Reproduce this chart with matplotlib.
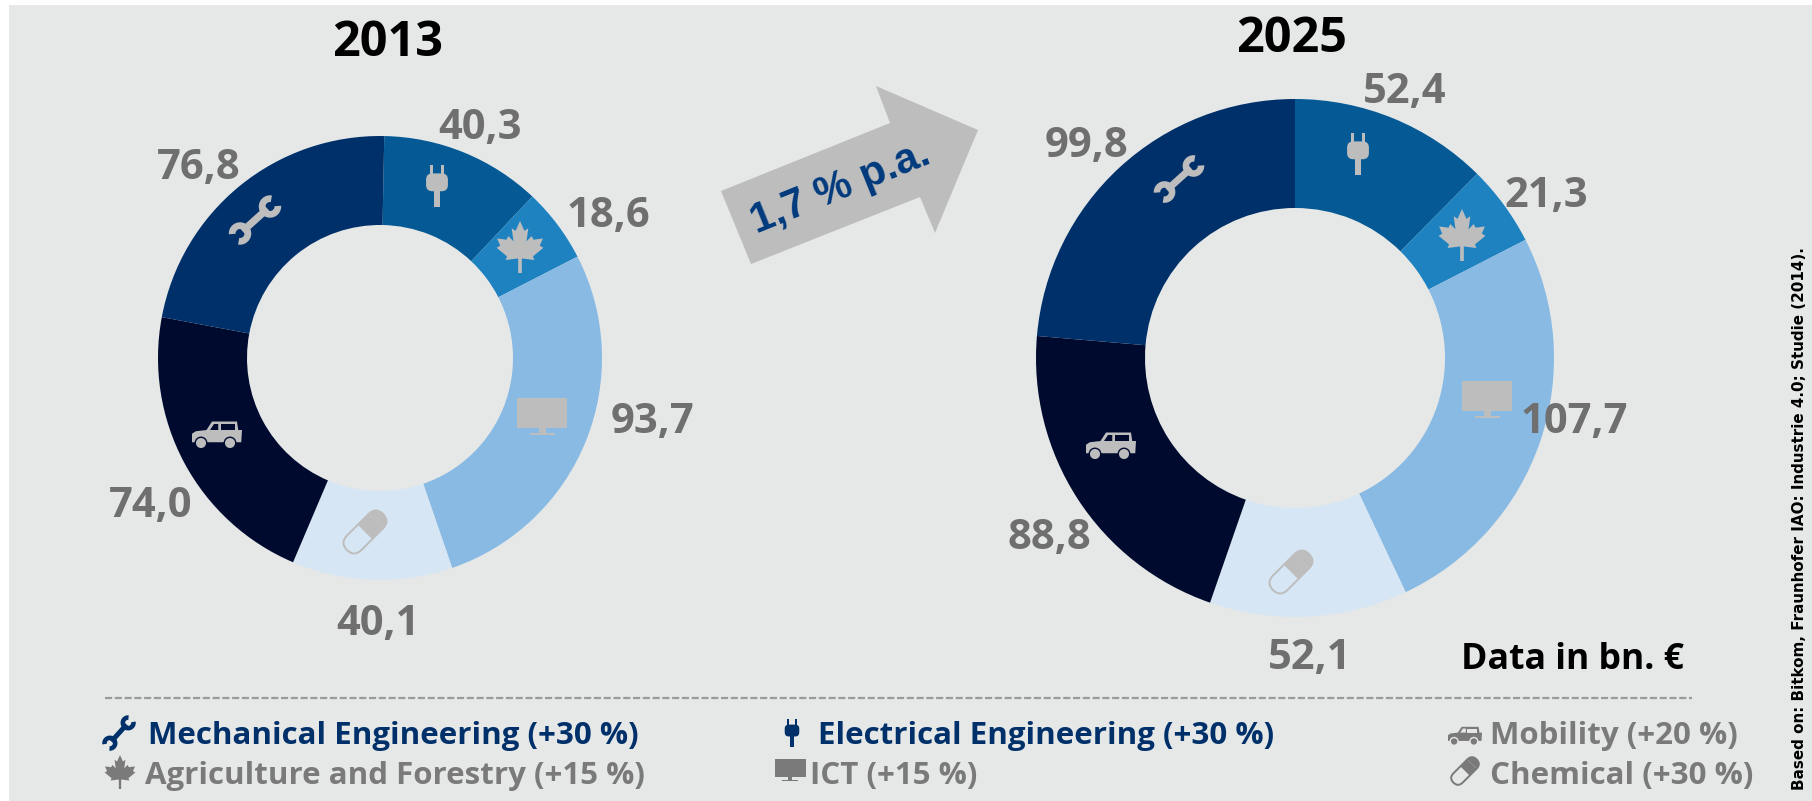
import matplotlib
matplotlib.use('Agg')
import matplotlib.pyplot as plt
from matplotlib.patches import Rectangle, Polygon, Wedge, FancyBboxPatch, Circle
from matplotlib.transforms import Affine2D

W, H = 1812, 801

values_2013 = [40.3, 18.6, 93.7, 40.1, 74.0, 76.8]
values_2025 = [52.4, 21.3, 107.7, 52.1, 88.8, 99.8]
labels_2013 = ['40,3', '18,6', '93,7', '40,1', '74,0', '76,8']
labels_2025 = ['52,4', '21,3', '107,7', '52,1', '88,8', '99,8']
label_pos_2013 = [(480, 129), (608, 217), (653, 423), (378, 624), (151, 506), (199, 169)]
label_pos_2025 = [(1405, 93), (1546, 196), (1574, 422), (1310, 659), (1049, 538), (1087, 147)]
colors = ['#055a96', '#1f82c0', '#88bae3', '#d7e6f4', '#000a2e', '#00306a']

BG = '#e6e8e8'
GREY = '#6f6f6f'
LEGGREY = '#7a7a7a'
NAVY = '#00306a'
ICON = '#bdbdbd'
FONT = 'Open Sans'

plt.rcParams['font.family'] = FONT

fig = plt.figure(figsize=(W / 100, H / 100), dpi=100, facecolor='white')
ov = fig.add_axes([0, 0, 1, 1], zorder=3)
ov.set_xlim(0, W)
ov.set_ylim(H, 0)
ov.axis('off')
ov.patch.set_alpha(0)

bg = fig.add_axes([0, 0, 1, 1], zorder=0)
bg.set_xlim(0, W)
bg.set_ylim(H, 0)
bg.axis('off')
bg.add_patch(Rectangle((9, 5), W - 9, H - 5, color=BG, lw=0))


def donut(values, cx, cy, r, r_in, start):
    ax = fig.add_axes([(cx - r) / W, 1 - (cy + r) / H, 2 * r / W, 2 * r / H], zorder=1)
    ax.pie(values, colors=colors, startangle=start, counterclock=False, radius=1,
           wedgeprops=dict(width=1 - r_in / r, linewidth=0))
    ax.set_xlim(-1, 1)
    ax.set_ylim(-1, 1)


def put(patch, x, y, s, a=0):
    patch.set_transform(Affine2D().scale(s).rotate_deg(a).translate(x, y) + ov.transData)
    ov.add_patch(patch)


def wrench(x, y, s, col, a=-42):
    put(Rectangle((-0.6, -0.13), 1.2, 0.26, color=col, lw=0), x, y, s, a)
    put(Wedge((0.72, 0), 0.4, 38, 322, width=0.24, color=col, lw=0), x, y, s, a)
    put(Wedge((-0.72, 0), 0.4, 218, 502, width=0.24, color=col, lw=0), x, y, s, a)


def plug(x, y, s, col):
    put(Rectangle((-0.34, -1.0), 0.16, 0.45, color=col, lw=0), x, y, s)
    put(Rectangle((0.18, -1.0), 0.16, 0.45, color=col, lw=0), x, y, s)
    put(FancyBboxPatch((-0.52, -0.6), 1.04, 0.85, boxstyle='round,pad=0,rounding_size=0.3',
                       color=col, lw=0), x, y, s)
    put(Rectangle((-0.13, 0.2), 0.26, 0.8, color=col, lw=0), x, y, s)


leaf_half = [(0, -1), (0.17, -0.62), (0.32, -0.72), (0.25, -0.22), (0.45, -0.42), (0.52, -0.28),
             (0.88, -0.33), (0.76, -0.05), (0.9, 0.03), (0.5, 0.36), (0.55, 0.5), (0.07, 0.44),
             (0.07, 1.0)]


def leaf(x, y, s, col):
    pts = leaf_half + [(-px, py) for px, py in reversed(leaf_half)]
    put(Polygon(pts, closed=True, color=col, lw=0), x, y, s)


def monitor(x, y, s, col):
    put(Rectangle((-1, -0.72), 2, 1.2, color=col, lw=0), x, y, s)
    put(Rectangle((-0.14, 0.48), 0.28, 0.22, color=col, lw=0), x, y, s)
    put(Rectangle((-0.5, 0.66), 1.0, 0.08, color=col, lw=0), x, y, s)


def car(x, y, s, col, win='#000a2e'):
    put(Polygon([(-1, 0.29), (-1, -0.05), (-0.85, -0.15), (-0.42, -0.2), (-0.2, -0.54), (0.8, -0.54),
                 (0.85, -0.2), (1, -0.2), (0.97, 0.29)], closed=True, color=col, lw=0), x, y, s)
    put(Polygon([(-0.28, -0.2), (-0.12, -0.44), (0.05, -0.44), (0.05, -0.2)], closed=True, color=win, lw=0),
        x, y, s)
    put(Rectangle((0.14, -0.44), 0.56, 0.24, color=win, lw=0), x, y, s)
    for wx in (-0.64, 0.52):
        put(Circle((wx, 0.32), 0.23, color=col, ec=win, lw=1), x, y, s)


def pill(x, y, s, col, a=-45):
    put(Rectangle((0, -0.4), 0.6, 0.8, color=col, lw=0), x, y, s, a)
    put(Wedge((0.6, 0), 0.4, 270, 450, color=col, lw=0), x, y, s, a)
    put(FancyBboxPatch((-1, -0.4), 2, 0.8, boxstyle='round,pad=0,rounding_size=0.4',
                       fc='none', ec=col, lw=1.4), x, y, s, a)


donut(values_2013, 380, 358, 222, 133, 88.9)
donut(values_2025, 1295, 358, 259, 150, 90)

# icons inside the rings
wrench(255, 220, 28, ICON)
plug(437, 186, 21, ICON)
leaf(520, 247, 26, ICON)
monitor(542, 416, 25, ICON)
pill(365, 532, 25.5, ICON)
car(217, 435, 25, ICON)

wrench(1179, 179, 27, ICON)
plug(1358, 154, 21, ICON)
leaf(1462, 235, 26, ICON)
monitor(1487, 399, 25, ICON)
pill(1291, 572, 25.5, ICON)
car(1111, 446, 25, ICON)

ov.text(388, 44, '2013', fontsize=35, fontweight='bold', color='black', ha='center', va='center')
ov.text(1292, 40, '2025', fontsize=35, fontweight='bold', color='black', ha='center', va='center')

for txt, (px, py) in zip(labels_2013 + labels_2025, label_pos_2013 + label_pos_2025):
    ov.text(px, py, txt, fontsize=30, fontweight='bold', color=GREY, ha='center', va='center')

# growth arrow
ov.add_patch(Polygon([(751, 264), (721, 191), (890, 123), (876, 86), (978, 130), (935, 233), (920, 197)],
                     closed=True, color=ICON, lw=0))
ov.text(841, 188, '1,7 % p.a.', fontsize=30, fontweight='bold', color='#003a7d', family='Liberation Sans',
        rotation=22, rotation_mode='anchor', ha='center', va='center')

ov.text(1572, 660, 'Data in bn. €', fontsize=25.7, fontweight='bold', color='black', ha='center', va='center')

ov.plot([105, 1692], [698, 698], color='#9a9a9a', lw=1.6, ls=(0, (3.2, 1.2)))

# legend
legend_rows = [(148, 736, 'Mechanical Engineering (+30 %)', NAVY),
               (818, 736, 'Electrical Engineering (+30 %)', NAVY),
               (1490, 736, 'Mobility (+20 %)', LEGGREY),
               (145, 776, 'Agriculture and Forestry (+15 %)', LEGGREY),
               (810, 776, 'ICT (+15 %)', LEGGREY),
               (1490, 776, 'Chemical (+30 %)', LEGGREY)]
for lx, ly, txt, col in legend_rows:
    ov.text(lx, ly, txt, fontsize=22.5, fontweight='bold', color=col, ha='left', va='center')

wrench(119, 733, 19, NAVY, a=-48)
plug(792, 733, 14, NAVY)
car(1465, 736, 17, LEGGREY, BG)
leaf(120, 772, 17, LEGGREY)
monitor(790, 770, 15.5, LEGGREY)
pill(1465, 771, 16.4, LEGGREY)

ov.text(1800, 247, 'Based on: Bitkom, Fraunhofer IAO: Industrie 4.0; Studie (2014).', fontsize=10.9,
        fontweight='bold', family='DejaVu Sans', color='black', rotation=90, ha='center', va='top')

fig.savefig('out.png', dpi=100, facecolor='white')
